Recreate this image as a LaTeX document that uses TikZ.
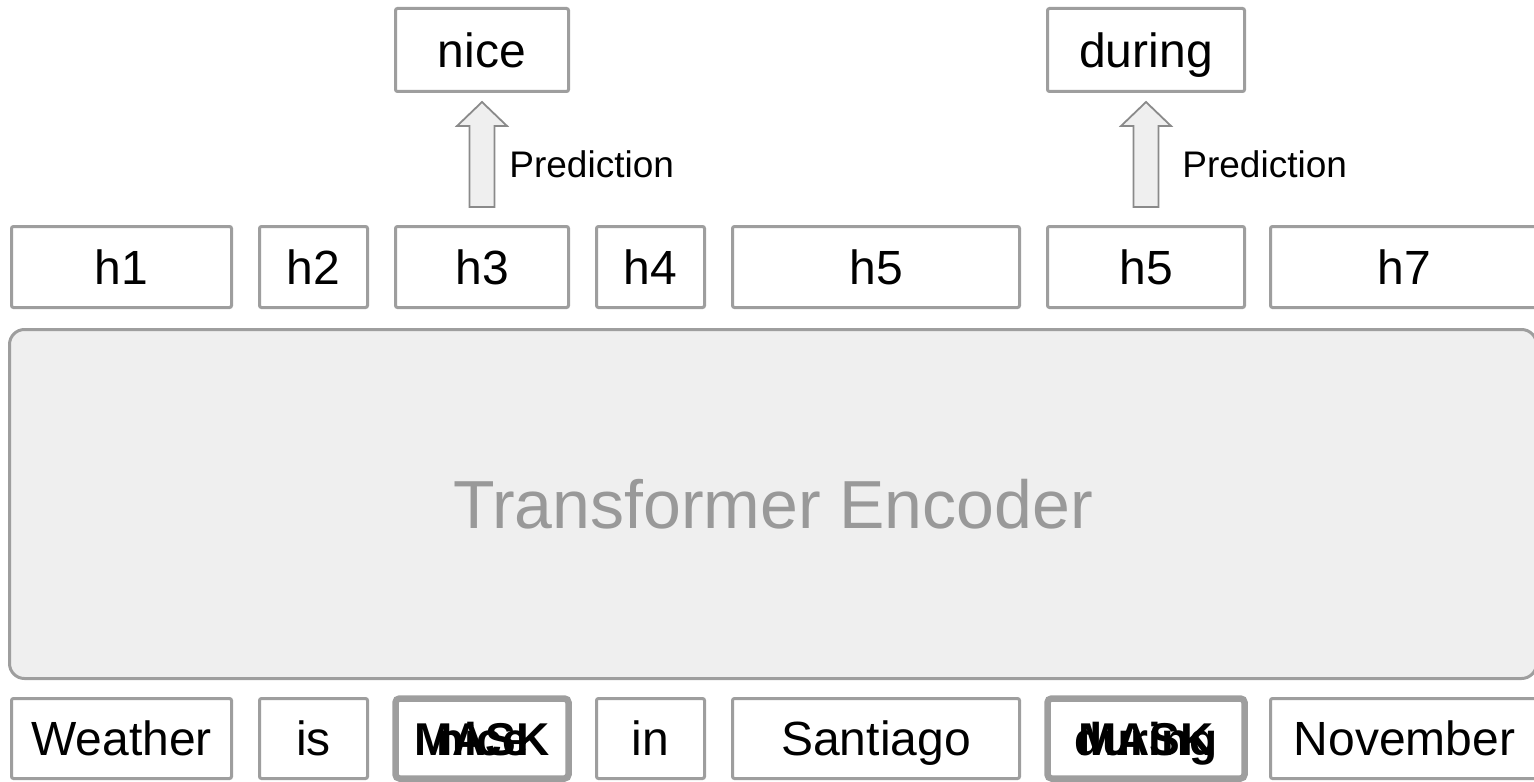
\documentclass[tikz,border=0pt]{standalone}
\usepackage{fontspec}
\setmainfont{Liberation Sans}
\usetikzlibrary{calc}
\definecolor{boxgray}{HTML}{9E9E9E}
\definecolor{encfill}{HTML}{EFEFEF}
\definecolor{enctext}{HTML}{999999}
\definecolor{arrowgray}{HTML}{8A8A8A}
\tikzset{
  tok/.style={draw=boxgray, line width=1.5pt, rounded corners=1pt, fill=white, inner sep=0pt, outer sep=0pt,
    text height=17.2pt, text depth=0pt, font=\fontsize{24}{28}\selectfont},
  toprow/.style={tok, minimum height=41.5pt},
  hrow/.style={tok, minimum height=40.5pt},
  botrow/.style={tok, minimum height=40pt},
  masked/.style={line width=3.25pt, rounded corners=2pt, text height=16.5pt, font=\fontsize{23}{28}\selectfont\bfseries},
  encoder/.style={draw=boxgray, line width=1.5pt, rounded corners=7.5pt, fill=encfill, inner sep=0pt, outer sep=0pt,
    text=enctext, font=\fontsize{34}{40}\selectfont, text height=24.3pt, text depth=0pt},
  blockarrow/.style={draw=arrowgray, line width=0.9pt, fill=encfill, line join=miter},
  predlabel/.style={anchor=west, inner sep=0pt, font=\fontsize{18.5}{22}\selectfont, text height=13.25pt, text depth=0pt}
}
\begin{document}
\begin{tikzpicture}[x=0.5pt, y=-0.5pt]
\useasboundingbox (0,0) rectangle (1534,781);
\clip (0,0) rectangle (1534,781);

% encoder
\node[encoder, minimum width=763.5pt, minimum height=174.5pt] (enc) at (773,504) {Transformer Encoder};

% top predictions
\node[toprow, minimum width=86.5pt] (nice) at (482,50) {nice};
\node[toprow, minimum width=98.5pt] (during) at (1146,50) {during};

% hidden states
\node[hrow, minimum width=110pt] (h1) at (121.5,267) {h1};
\node[hrow, minimum width=54pt] (h2) at (313.5,267) {h2};
\node[hrow, minimum width=86.5pt] (h3) at (482,267) {h3};
\node[hrow, minimum width=54pt] (h4) at (650.5,267) {h4};
\node[hrow, minimum width=143.5pt] (h5) at (876,267) {h5};
\node[hrow, minimum width=98.5pt] (h6) at (1146,267) {h5};
\node[hrow, minimum width=134pt] (h7) at (1404.5,267) {h7};

% input tokens
\node[botrow, minimum width=110pt] (w1) at (121.5,738.5) {Weather};
\node[botrow, minimum width=54pt] (w2) at (313.5,738.5) {is};
\node[botrow, masked, minimum width=86.5pt] (w3) at (482,738.5) {\makebox[0pt]{MASK}\makebox[0pt]{nice}};
\node[botrow, minimum width=54pt] (w4) at (650.5,738.5) {in};
\node[botrow, minimum width=143.5pt] (w5) at (876,738.5) {Santiago};
\node[botrow, masked, minimum width=98.5pt] (w6) at (1146,738.5) {\makebox[0pt]{MASK}\makebox[0pt]{during}};
\node[botrow, minimum width=134pt] (w7) at (1404.5,738.5) {November};

% prediction arrows
\path (h3.north) ++(0,-19.5) coordinate (a1b);
\path (nice.south) ++(0,10.5) coordinate (a1t);
\draw[blockarrow] ($(a1b)+(-12.5,0)$) -- ($(a1b)+(12.5,0)$) -- ($(a1t)+(12.5,24)$) -- ($(a1t)+(25,24)$)
  -- (a1t) -- ($(a1t)+(-25,24)$) -- ($(a1t)+(-12.5,24)$) -- cycle;
\node[predlabel] (p1) at ($(a1b)!0.5!(a1t)+(27,10)$) {Prediction};

\path (h6.north) ++(0,-19.5) coordinate (a2b);
\path (during.south) ++(0,10.5) coordinate (a2t);
\draw[blockarrow] ($(a2b)+(-12.5,0)$) -- ($(a2b)+(12.5,0)$) -- ($(a2t)+(12.5,24)$) -- ($(a2t)+(25,24)$)
  -- (a2t) -- ($(a2t)+(-25,24)$) -- ($(a2t)+(-12.5,24)$) -- cycle;
\node[predlabel] (p2) at ($(a2b)!0.5!(a2t)+(36,10)$) {Prediction};
\end{tikzpicture}
\end{document}
